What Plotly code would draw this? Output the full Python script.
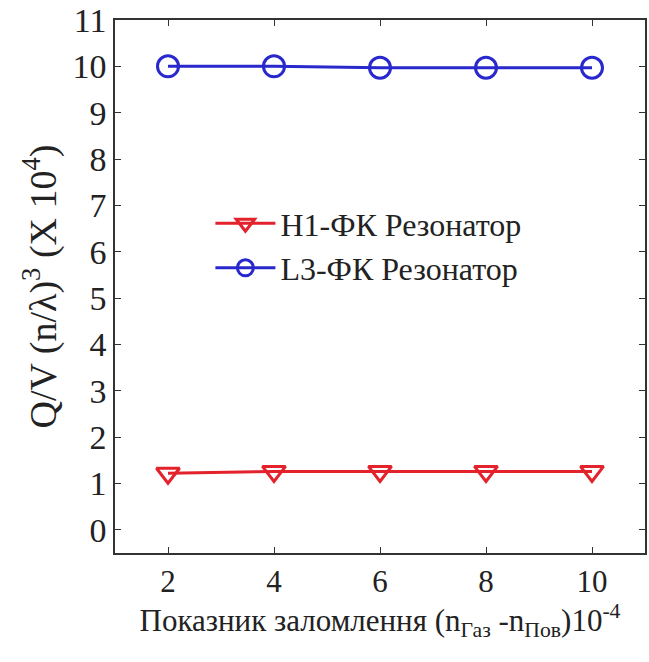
import plotly.graph_objects as go

x_vals = [2, 4, 6, 8, 10]
h1_vals = [1.22, 1.26, 1.26, 1.26, 1.26]
l3_vals = [10.0, 10.0, 9.97, 9.97, 9.97]
h1_name = "H1-ФК Резонатор"
l3_name = "L3-ФК Резонатор"

font_fam = "Liberation Serif"

fig = go.Figure()
fig.add_trace(go.Scatter(x=x_vals, y=h1_vals, mode="lines+markers", name=h1_name,
                         line=dict(color="#e3222c", width=3),
                         marker=dict(symbol="triangle-down-open", size=20, color="#e3222c",
                                     line=dict(width=3, color="#e3222c"))))
fig.add_trace(go.Scatter(x=x_vals, y=l3_vals, mode="lines+markers", name=l3_name,
                         line=dict(color="#2828cc", width=3),
                         marker=dict(symbol="circle-open", size=21, color="#2828cc",
                                     line=dict(width=3, color="#2828cc"))))

axis_common = dict(showline=True, linecolor="#333333", linewidth=1.5, mirror="ticks",
                   ticks="inside", ticklen=6, tickcolor="#333333", showgrid=False,
                   zeroline=False)

fig.update_layout(
    width=649, height=662,
    margin=dict(l=115, r=2, t=20, b=109),
    paper_bgcolor="white", plot_bgcolor="white",
    font=dict(family=font_fam, color="#222222"),
    xaxis=dict(range=[1, 11], tickvals=x_vals, **axis_common,
               tickfont=dict(family=font_fam, size=31, color="#222222"),
               title=dict(text="Показник заломлення (n<sub>Газ</sub> -n<sub>Пов</sub>)10<sup>-4</sup>",
                          font=dict(family=font_fam, size=31), standoff=0)),
    yaxis=dict(range=[-0.5, 11], tickvals=list(range(0, 12)), **axis_common,
               tickfont=dict(family=font_fam, size=34, color="#222222"),
               title=dict(text="Q/V (n/λ)<sup>3</sup> (X 10<sup>4</sup>)",
                          font=dict(family=font_fam, size=38), standoff=4)),
    legend=dict(x=0.18, y=0.67, xanchor="left", yanchor="top", bgcolor="rgba(0,0,0,0)",
                font=dict(family=font_fam, size=32, color="#222222"), itemwidth=60,
                tracegroupgap=0),
    showlegend=True,
)

fig.write_html("out.html")
